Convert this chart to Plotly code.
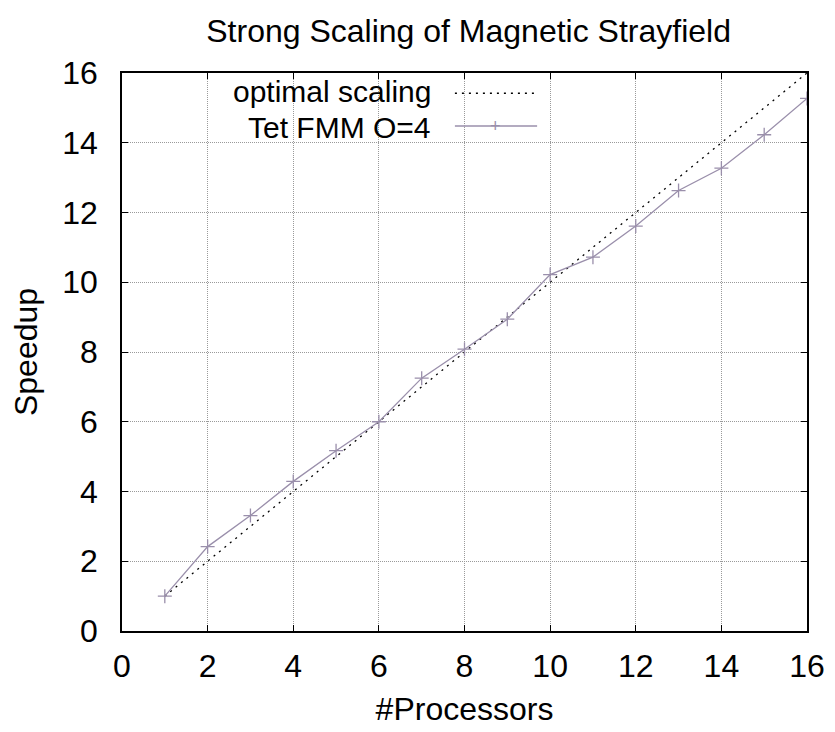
import plotly.graph_objects as go

processors = list(range(1, 17))
optimal = list(range(1, 17))
tet_fmm = [1.0, 2.42, 3.31, 4.29, 5.17, 6.0, 7.25, 8.08, 8.94, 10.22, 10.72,
           11.61, 12.63, 13.27, 14.23, 15.27]
x_ticks = list(range(0, 17, 2))
y_ticks = list(range(0, 17, 2))

FONT = "Liberation Sans, Arial, sans-serif"
PURPLE = "#9a8fab"
FS = 32
DOTS = "2px,5px"

fig = go.Figure()
fig.add_trace(go.Scatter(x=processors, y=optimal, mode="lines",
                         line=dict(color="black", width=1.3, dash=DOTS),
                         name="optimal scaling", showlegend=False))
fig.add_trace(go.Scatter(x=processors, y=tet_fmm, mode="lines+markers",
                         line=dict(color=PURPLE, width=1.3),
                         marker=dict(symbol="cross-thin", size=10,
                                     line=dict(color=PURPLE, width=1.3)),
                         name="Tet FMM O=4", showlegend=False))

# legend (gnuplot style: right-aligned text, sample to the right)
leg = [("optimal scaling", 0.9665, 0.9637, dict(color="black", width=1.3, dash=DOTS), False),
       ("Tet FMM O=4", 0.9025, 0.905, dict(color=PURPLE, width=1.3, dash="solid"), True)]
for txt, ty, ly, ln, mk in leg:
    fig.add_annotation(x=0.453, y=ty, xref="paper", yref="paper", text=txt,
                       showarrow=False, xanchor="right", yanchor="middle",
                       borderpad=0,
                       font=dict(family=FONT, size=30, color="black"))
    fig.add_shape(type="line", xref="paper", yref="paper",
                  x0=0.486, x1=0.606, y0=ly, y1=ly, line=ln)
    if mk:
        fig.add_annotation(x=0.545, y=ly, xref="paper", yref="paper", text="+",
                           showarrow=False, xanchor="center", yanchor="middle",
                           font=dict(family=FONT, size=18, color=PURPLE))

axis_common = dict(showgrid=True, gridcolor="#9a9a9a", griddash="1px,1px", gridwidth=1,
                   showline=True, linecolor="black", linewidth=1.5, mirror="allticks",
                   ticks="inside", ticklen=6, tickcolor="black", zeroline=False,
                   automargin=False,
                   tickfont=dict(family=FONT, size=FS, color="black"))

fig.update_layout(
    width=827, height=724,
    margin=dict(l=114, r=28, t=65, b=101),
    paper_bgcolor="white", plot_bgcolor="white",
    title=dict(text="Strong Scaling of Magnetic Strayfield", x=0.557, xanchor="center",
               y=0.968, yanchor="middle",
               font=dict(family=FONT, size=FS, color="black")),
    xaxis=dict(range=[0, 16], tickvals=x_ticks, ticktext=[str(v) for v in x_ticks],
               ticklabelstandoff=6,
               title=dict(text="#Processors", standoff=14,
                          font=dict(family=FONT, size=FS, color="black")),
               **axis_common),
    yaxis=dict(range=[0, 16], tickvals=y_ticks, ticktext=[str(v) for v in y_ticks],
               ticklabelstandoff=16,
               title=dict(text="Speedup", standoff=22,
                          font=dict(family=FONT, size=FS, color="black")),
               **axis_common),
    showlegend=False,
)

fig.write_html("out.html")
